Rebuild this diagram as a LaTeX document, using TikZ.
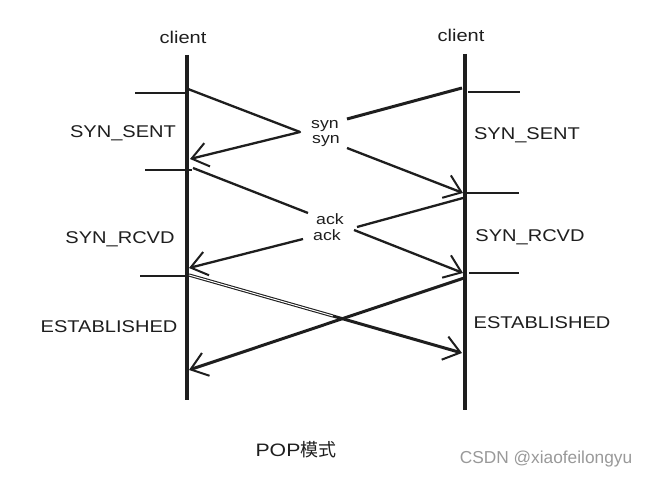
\documentclass[tikz,border=0pt]{standalone}
\usepackage{fontspec}
\setmainfont{Liberation Sans}[FakeStretch=1.18]
\newfontfamily\cjk{Noto Sans CJK SC}
\newfontfamily\wm{Liberation Sans}
\usetikzlibrary{arrows.meta}
\definecolor{ink}{HTML}{1E1E1E}
\tikzset{
  life/.style={line width=3.4pt, draw=ink},
  tick/.style={line width=2.3pt, draw=ink},
  msg/.style={line width=2.3pt, draw=ink},
  msgarrow/.style={msg, -{Straight Barb[length=16pt,width=24pt,line width=2pt]}},
  lbl/.style={text=ink, font=\fontsize{17}{19}\selectfont, inner sep=0pt},
  small/.style={text=ink, font=\fontsize{15}{15}\selectfont, inner sep=0pt},
}
\begin{document}
\begin{tikzpicture}[x=1pt,y=-1pt]
\fill[white] (0,0) rectangle (649,478);
\useasboundingbox (0,0) rectangle (649,478);

% lifelines
\coordinate (LT) at (187,55); \coordinate (LB) at (187,400);
\coordinate (RT) at (465,54); \coordinate (RB) at (465,410);
\draw[life] (LT) -- (LB);
\draw[life] (RT) -- (RB);

\node[lbl] (cl) at (183,37) {client};
\node[lbl] (cr) at (461,35) {client};

% ticks
\coordinate (lt1a) at (135,93);  \coordinate (lt1b) at (188,93);
\coordinate (lt2a) at (145,170); \coordinate (lt2b) at (192,170);
\coordinate (lt3a) at (140,276); \coordinate (lt3b) at (188,276);
\coordinate (rt1a) at (468,92);  \coordinate (rt1b) at (520,92);
\coordinate (rt2a) at (467,193); \coordinate (rt2b) at (519,193);
\coordinate (rt3a) at (469,273); \coordinate (rt3b) at (519,273);
\draw[tick] (lt1a) -- (lt1b);
\draw[tick] (lt2a) -- (lt2b);
\draw[tick] (lt3a) -- (lt3b);
\draw[tick] (rt1a) -- (rt1b);
\draw[tick] (rt2a) -- (rt2b);
\draw[tick] (rt3a) -- (rt3b);

% state labels
\node[lbl] (ss1) at (123,133) {SYN\_SENT};
\node[lbl] (ss2) at (527,135) {SYN\_SENT};
\node[lbl] (sr1) at (120,239) {SYN\_RCVD};
\node[lbl] (sr2) at (530,237) {SYN\_RCVD};
\node[lbl] (es1) at (109,327) {ESTABLISHED};
\node[lbl] (es2) at (542,323) {ESTABLISHED};

% syn exchange
\node[small] (syn1) at (325,126) {syn};
\node[small] (syn2) at (326,141) {syn};
\coordinate (s1a) at (188,89);
\coordinate (s1m) at (300,132);
\coordinate (s1b) at (190,159);
\coordinate (s2a) at (462,88);
\coordinate (s2m) at (347,119);
\coordinate (s2n) at (347,148);
\coordinate (s2b) at (463,193);
\draw[msg, line cap=round] (s1a) -- (s1m);
\draw[msgarrow] (s1m) -- (s1b);
\draw[msg, line width=3pt] (s2a) -- (s2m);
\draw[msgarrow] (s2n) -- (s2b);

% ack exchange
\node[small] (ack1) at (330,219) {ack};
\node[small] (ack2) at (327,235) {ack};
\coordinate (a1a) at (193,168);
\coordinate (a1m) at (308,213);
\coordinate (a1n) at (303,239);
\coordinate (a1b) at (189,268);
\coordinate (a2a) at (463,198);
\coordinate (a2m) at (357,227);
\coordinate (a2n) at (354,230);
\coordinate (a2b) at (463,273);
\draw[msg] (a1a) -- (a1m);
\draw[msgarrow] (a1n) -- (a1b);
\draw[msg] (a2a) -- (a2m);
\draw[msgarrow] (a2n) -- (a2b);

% established crossing
\coordinate (e1a) at (189,275);
\coordinate (e1m) at (333,316);
\coordinate (e1b) at (462,353);
\coordinate (e2a) at (464,278);
\coordinate (e2b) at (189,370);
\draw[ink, double=white, double distance=1pt, line width=1.1pt] (e1a) -- (e1m);
\draw[msgarrow, line width=3pt] (e1m) -- (e1b);
\draw[msgarrow, line width=3pt] (e2a) -- (e2b);

% captions
\node[lbl, font=\fontsize{18}{20}\selectfont] (cap) at (296,450) {POP{\cjk 模式}};
\node[inner sep=0pt, text=black!40, font=\wm\fontsize{17.3}{18}\selectfont] (wmk) at (546,459) {CSDN @xiaofeilongyu};
\end{tikzpicture}
\end{document}
